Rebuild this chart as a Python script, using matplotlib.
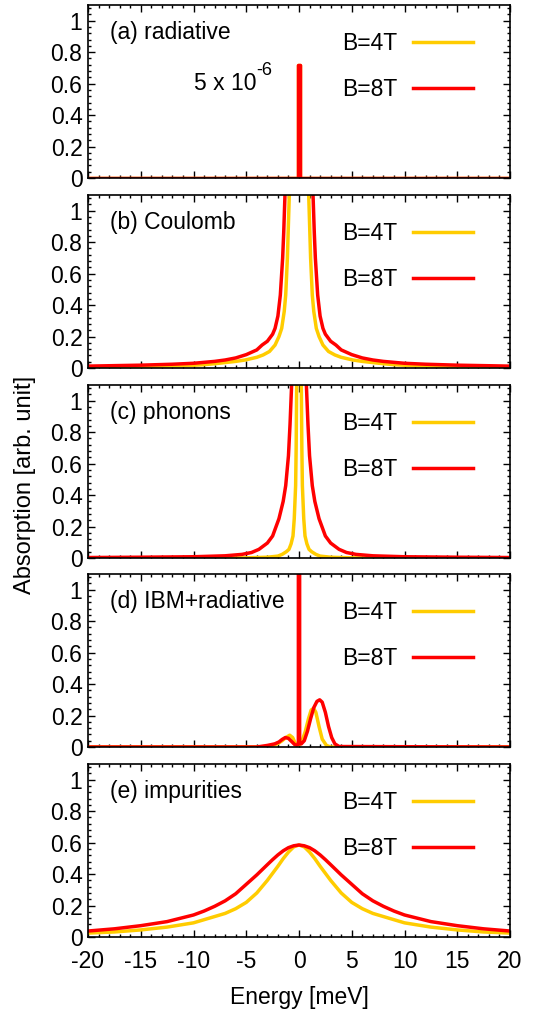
import numpy as np
import matplotlib
matplotlib.use("Agg")
import matplotlib.pyplot as plt
from matplotlib.ticker import AutoMinorLocator, MultipleLocator, FuncFormatter

plt.rcParams['font.family'] = ['Liberation Sans', 'DejaVu Sans']

# values, energy in meV
# (a) radiative: narrow spike at zero
x_rad = [-20, -0.06, -0.06, 0.06, 0.06, 20]
rad_4T = [0, 0, 0.72, 0.72, 0, 0]
rad_8T = [0, 0, 0.72, 0.72, 0, 0]

# (b) Coulomb, right half (mirrored below)
x_coul_8T = [0, 0.6, 1.0, 1.2, 1.33, 1.45, 1.55, 1.77, 2.0, 2.27, 2.5, 3.0, 3.5,
             4.0, 5.0, 6.0, 7.0, 8.0, 10.0, 12.0, 15.0, 20.0]
coul_8T = [3.5, 2.8, 2.0, 1.5, 1.1, 0.86, 0.7, 0.464, 0.33, 0.252, 0.215, 0.17, 0.146,
           0.115, 0.085, 0.064, 0.051, 0.042, 0.03, 0.024, 0.018, 0.012]
x_coul_4T = [0, 0.6, 0.8, 0.92, 1.1, 1.26, 1.4, 1.64, 1.9, 2.27, 2.8, 3.4, 4.0,
             5.1, 6.0, 7.6, 9.0, 11.0, 15.0, 20.0]
coul_4T = [3.0, 1.8, 1.35, 1.1, 0.7, 0.464, 0.36, 0.252, 0.2, 0.146, 0.105, 0.083, 0.068,
           0.051, 0.042, 0.03, 0.021, 0.014, 0.009, 0.006]

# (c) phonons, right half
x_phon_8T = [0, 0.4, 0.55, 0.7, 0.85, 1.0, 1.26, 1.5, 1.9, 2.5, 3.0, 3.8, 4.5,
             5.4, 7.0, 10.0, 15.0, 20.0]
phon_8T = [3.0, 2.0, 1.5, 1.1, 0.85, 0.65, 0.46, 0.36, 0.25, 0.14, 0.095, 0.055, 0.035,
           0.023, 0.014, 0.008, 0.005, 0.003]
x_phon_4T = [0, 0.1, 0.17, 0.22, 0.27, 0.32, 0.45, 0.57, 0.75, 0.95, 1.2, 1.6, 2.0,
             3.0, 5.0, 20.0]
phon_4T = [3.0, 2.0, 1.5, 1.1, 0.7, 0.46, 0.25, 0.14, 0.09, 0.055, 0.04, 0.023, 0.012,
           0.005, 0.001, 0.0]

# (d) IBM + radiative
x_ibm_8T = [-20, -4.0, -3.6, -3.0, -2.3, -1.9, -1.6, -1.3, -1.0, -0.7, -0.4, -0.2,
            -0.06, -0.06, 0.06, 0.06, 0.22, 0.5, 0.8, 1.1, 1.4, 1.7, 1.96, 2.2,
            2.5, 2.8, 3.1, 3.4, 3.8, 20]
ibm_8T = [0, 0, 0.004, 0.01, 0.02, 0.032, 0.048, 0.06, 0.055, 0.035, 0.015, 0.012,
          0.02, 3.0, 3.0, 0.02, 0.02, 0.04, 0.1, 0.18, 0.25, 0.29, 0.30, 0.285,
          0.22, 0.13, 0.06, 0.02, 0.003, 0]
x_ibm_4T = [-20, -3.5, -3.0, -2.4, -2.0, -1.6, -1.2, -0.88, -0.6, -0.4, -0.2, -0.05,
            0.05, 0.3, 0.6, 0.9, 1.15, 1.39, 1.6, 1.9, 2.2, 2.6, 3.0, 20]
ibm_4T = [0, 0, 0.004, 0.012, 0.022, 0.04, 0.062, 0.075, 0.06, 0.03, 0.012, 0.015,
          0.015, 0.04, 0.1, 0.18, 0.235, 0.246, 0.22, 0.13, 0.05, 0.01, 0.0, 0]

# (e) impurities, right half
x_imp = [0, 0.5, 1, 1.5, 2, 2.5, 3, 4, 5, 6, 7, 8, 9, 10, 12.5, 15, 17.5, 20]
imp_8T = [0.585, 0.58, 0.568, 0.548, 0.522, 0.492, 0.46, 0.395, 0.335, 0.275, 0.23,
          0.195, 0.165, 0.14, 0.098, 0.072, 0.052, 0.038]
imp_4T = [0.585, 0.573, 0.54, 0.498, 0.45, 0.405, 0.36, 0.28, 0.22, 0.18, 0.15,
          0.13, 0.11, 0.09, 0.063, 0.045, 0.032, 0.025]

labels = ['(a) radiative', '(b) Coulomb', '(c) phonons', '(d) IBM+radiative',
          '(e) impurities']
yellow = '#ffcc00'
red = '#ff0000'
fs = 16.5


def mirror(x, y):
    x = np.asarray(x, float)
    y = np.asarray(y, float)
    return np.concatenate([-x[::-1], x[1:]]), np.concatenate([y[::-1], y[1:]])


panels = [
    ((x_rad, rad_4T), (x_rad, rad_8T)),
    (mirror(x_coul_4T, coul_4T), mirror(x_coul_8T, coul_8T)),
    (mirror(x_phon_4T, phon_4T), mirror(x_phon_8T, phon_8T)),
    ((x_ibm_4T, ibm_4T), (x_ibm_8T, ibm_8T)),
    (mirror(x_imp, imp_4T), mirror(x_imp, imp_8T)),
]

W, H = 536, 1010
fig = plt.figure(figsize=(W / 100, H / 100), dpi=100)
tops = [5, 195, 385, 574, 764]
ph = 173
left, right = 88, 510

axes = []
for i, ((x4, y4), (x8, y8)) in enumerate(panels):
    ax = fig.add_axes([left / W, 1 - (tops[i] + ph) / H, (right - left) / W, ph / H])
    ax.plot(x4, y4, color=yellow, lw=2.5, label='B=4T')
    ax.plot(x8, y8, color=red, lw=2.5, label='B=8T')
    ax.set_xlim(-20, 20)
    ax.set_ylim(0, 1.1)
    ax.xaxis.set_major_locator(MultipleLocator(5))
    ax.xaxis.set_minor_locator(AutoMinorLocator(5))
    ax.yaxis.set_major_locator(MultipleLocator(0.2))
    ax.yaxis.set_minor_locator(AutoMinorLocator(5))
    ax.yaxis.set_major_formatter(FuncFormatter(lambda v, p: '%g' % round(v, 2)))
    ax.xaxis.set_major_formatter(FuncFormatter(lambda v, p: '%g' % v))
    ax.tick_params(which='both', direction='in', top=True, right=True,
                   labelsize=fs, width=1.0)
    ax.tick_params(which='major', length=5, pad=4)
    ax.tick_params(axis='x', which='major', pad=9)
    ax.tick_params(which='minor', length=2.5)
    for s in ax.spines.values():
        s.set_linewidth(1.2)
    if i < 4:
        ax.tick_params(labelbottom=False)
    ax.text(0.052, 0.84, labels[i], transform=ax.transAxes, fontsize=fs,
            ha='left', va='center')
    ax.legend(loc='upper right', bbox_to_anchor=(0.913, 0.845), frameon=False,
              fontsize=fs, markerfirst=False, handlelength=2.65,
              handletextpad=0.66, labelspacing=1.0, borderpad=0, borderaxespad=0)
    axes.append(ax)

# "5 x 10^-6" with a plain hyphen in the exponent
base = axes[0].text(-10, 0.6, '5 x 10', fontsize=fs, ha='left', va='center')
axes[0].annotate('-6', xy=(1.0, 0.72), xycoords=base, fontsize=13,
                 ha='left', va='bottom')

axes[-1].set_xlabel('Energy [meV]', fontsize=fs, labelpad=10)
fig.text(25 / W, 1 - 485 / H, 'Absorption [arb. unit]', rotation=90,
         fontsize=17, ha='center', va='center')

fig.savefig('out.png', dpi=100)
